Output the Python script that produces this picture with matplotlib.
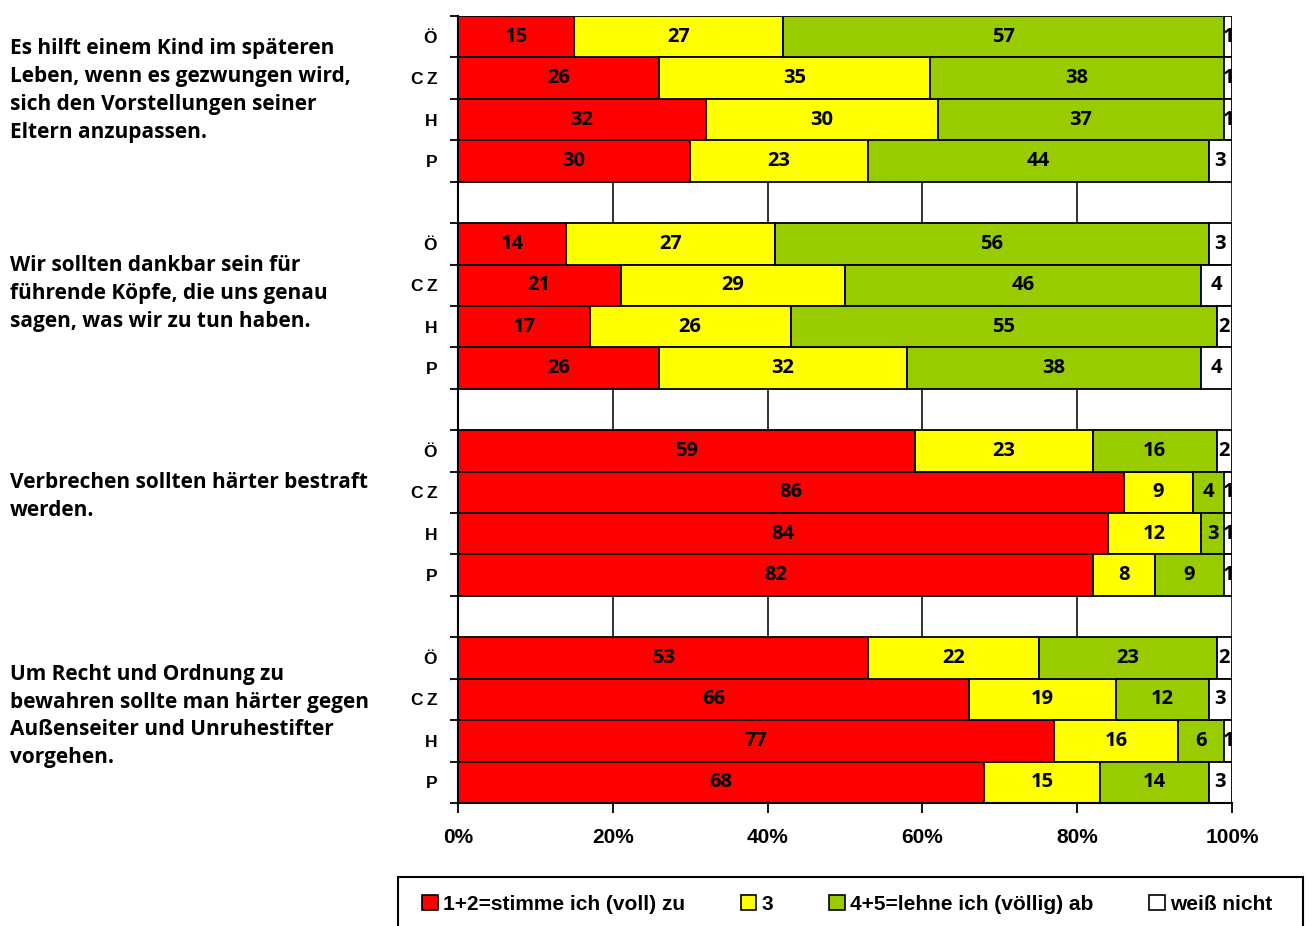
import numpy as np
import matplotlib
matplotlib.use("Agg")
from matplotlib import pyplot as plt
from matplotlib import transforms
from matplotlib.patches import Patch, Rectangle

# Survey data (percent per answer category)
countries = ["Ö", "CZ", "H", "P"]
questions = [
    "Es hilft einem Kind im späteren\nLeben, wenn es gezwungen wird,\nsich den Vorstellungen seiner\nEltern anzupassen.",
    "Wir sollten dankbar sein für\nführende Köpfe, die uns genau\nsagen, was wir zu tun haben.",
    "Verbrechen sollten härter bestraft\nwerden.",
    "Um Recht und Ordnung zu\nbewahren sollte man härter gegen\nAußenseiter und Unruhestifter\nvorgehen.",
]
categories = ["1+2=stimme ich (voll) zu", "3", "4+5=lehne ich (völlig) ab", "weiß nicht"]
colors = ["#FF0000", "#FFFF00", "#99CC00", "#FFFFFF"]

agree = [15, 26, 32, 30, 14, 21, 17, 26, 59, 86, 84, 82, 53, 66, 77, 68]
neutral = [27, 35, 30, 23, 27, 29, 26, 32, 23, 9, 12, 8, 22, 19, 16, 15]
disagree = [57, 38, 37, 44, 56, 46, 55, 38, 16, 4, 3, 9, 23, 12, 6, 14]
dontknow = [1, 1, 1, 3, 3, 4, 2, 4, 2, 1, 1, 1, 2, 3, 1, 3]

series = [agree, neutral, disagree, dontknow]

# row positions: 4 bars per question, one empty row between groups
n_grp = len(questions)
n_c = len(countries)
rows = []
for g in range(n_grp):
    for c in range(n_c):
        rows.append(g * (n_c + 1) + c)
rows = np.array(rows)
n_rows = n_grp * (n_c + 1) - 1

fig = plt.figure(figsize=(13.09, 9.26), dpi=100)
ax = fig.add_axes([458 / 1309, 1 - 803 / 926, (1232 - 458) / 1309, (803 - 16) / 926])

ax.set_axisbelow(True)
ax.xaxis.grid(True, color="#222222", linewidth=1.3)

left = np.zeros(len(rows))
for vals, col in zip(series, colors):
    vals = np.array(vals, dtype=float)
    ax.barh(rows, vals, left=left, height=1.0, color=col,
            edgecolor="black", linewidth=1.3)
    for y, l, v in zip(rows, left, vals):
        t = ax.text(l + v / 2, y, str(int(v)), ha="center", va="center",
                    fontsize=14.5, fontweight="bold", family="Open Sans")
        t.set_clip_on(True)
    left += vals

ax.set_xlim(0, 100)
ax.set_ylim(n_rows - 0.5, -0.5)

ax.set_xticks([0, 20, 40, 60, 80, 100])
ax.set_xticklabels(["0%", "20%", "40%", "60%", "80%", "100%"],
                   fontsize=15, fontweight="bold", family="Liberation Sans")
ax.tick_params(axis="x", length=7, width=1.3, pad=11)

# spaced letters like the original axis labels
ylabels = ["\u2009".join(c) for c in countries] * n_grp
ax.set_yticks(rows)
ax.set_yticklabels(ylabels, fontsize=12.5, fontweight="bold",
                   family="Liberation Sans")
ax.tick_params(axis="y", which="major", length=0, pad=15)
ax.set_yticks(np.arange(-0.5, n_rows, 1.0), minor=True)
ax.tick_params(axis="y", which="minor", length=6, width=1.3)

for s in ["top", "right"]:
    ax.spines[s].set_visible(False)
ax.spines["left"].set_linewidth(1.5)
ax.spines["bottom"].set_linewidth(1.5)

# question texts on the left (shift in rows relative to group centre)
shift = [-0.2, -0.3, -0.4, -0.1]
trans = transforms.blended_transform_factory(fig.transFigure, ax.transData)
for g, q in enumerate(questions):
    yc = g * (n_c + 1) + (n_c - 1) / 2 + shift[g]
    fig.text(10 / 1309, yc, q, transform=trans, ha="left", va="center",
             fontsize=15, fontweight="bold", family="Open Sans",
             linespacing=1.42)

# legend box (bottom edge runs off the picture)
fig.patches.append(Rectangle((398 / 1309, -0.02), (1303 - 398) / 1309, 0.02 + 49 / 926,
                             transform=fig.transFigure, facecolor="white",
                             edgecolor="black", linewidth=1.5))
handles = [Patch(facecolor=c, edgecolor="black", linewidth=1.2) for c in colors]
leg = fig.legend(handles, categories, loc="center left",
                 bbox_to_anchor=(422 / 1309, 1 - 904 / 926, (1272 - 422) / 1309, 0),
                 mode="expand", ncol=4, borderaxespad=0, borderpad=0,
                 frameon=False, handlelength=0.75, handleheight=0.75,
                 handletextpad=0.25,
                 prop={"family": "Liberation Sans", "weight": "bold", "size": 15})

fig.savefig("out.png", dpi=100)
